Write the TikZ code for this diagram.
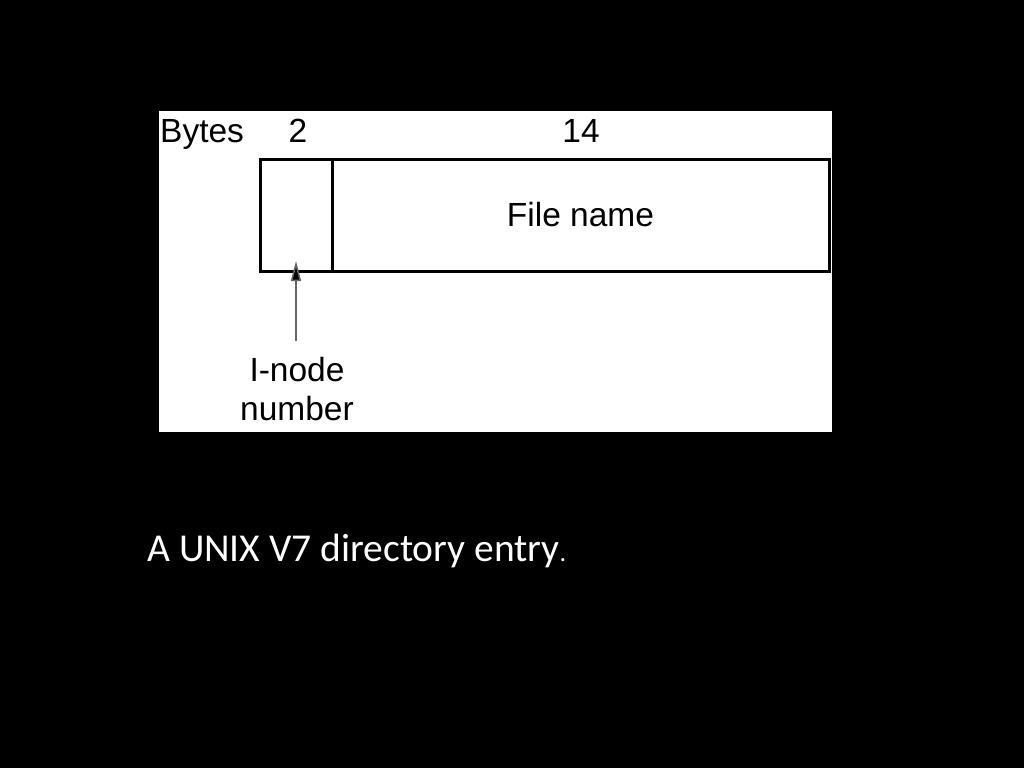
\documentclass[tikz,border=0pt]{standalone}
\usepackage{fontspec}
\setmainfont{Liberation Sans}
\newfontfamily\capfont{Carlito}
\usetikzlibrary{arrows.meta,calc}
\begin{document}
\begin{tikzpicture}[x=1pt,y=-1pt,
  lbl/.style={font=\fontsize{33.5}{39}\selectfont, inner sep=0pt, text=black},
  field/.style={draw=black, line width=3pt, inner sep=0pt, outer sep=0pt, anchor=north west},
  pointer/.style={draw=gray!80!black, line width=1.5pt, -{Triangle[length=20pt,width=10pt,fill=black]}}]
\useasboundingbox (0,0) rectangle (1024,768);
\fill[black] (0,0) rectangle (1024,768);
\fill[white] (159,111) rectangle (832,432);
% fields
\node[field, minimum width=72pt, minimum height=112pt] (inode) at (260,159) {};
\node[field, minimum width=497pt, minimum height=112pt] (fname) at (inode.north east) {};
\node[lbl] (fnlabel) at (fname.center) {File name};
% header labels
\node[lbl, anchor=base west] (bytes) at (160,142) {Bytes};
\node[lbl, anchor=base] (two) at (298,142) {2};
\node[lbl, anchor=base] (fourteen) at (581,142) {14};
% pointer
\node[lbl, align=center, anchor=north] (inlabel) at (297,357) {I-node\\number};
\coordinate (tail) at (296,341);
\coordinate (tip) at (296,261);
\draw[pointer] (tail) -- (tip);
% caption
\node[anchor=base west, inner sep=0pt, text=white, font=\capfont\fontsize{39.5}{46}\selectfont] (caption) at (147,561) {A UNIX V7 directory entry{\fontsize{26}{30}\selectfont.}};
\end{tikzpicture}
\end{document}
